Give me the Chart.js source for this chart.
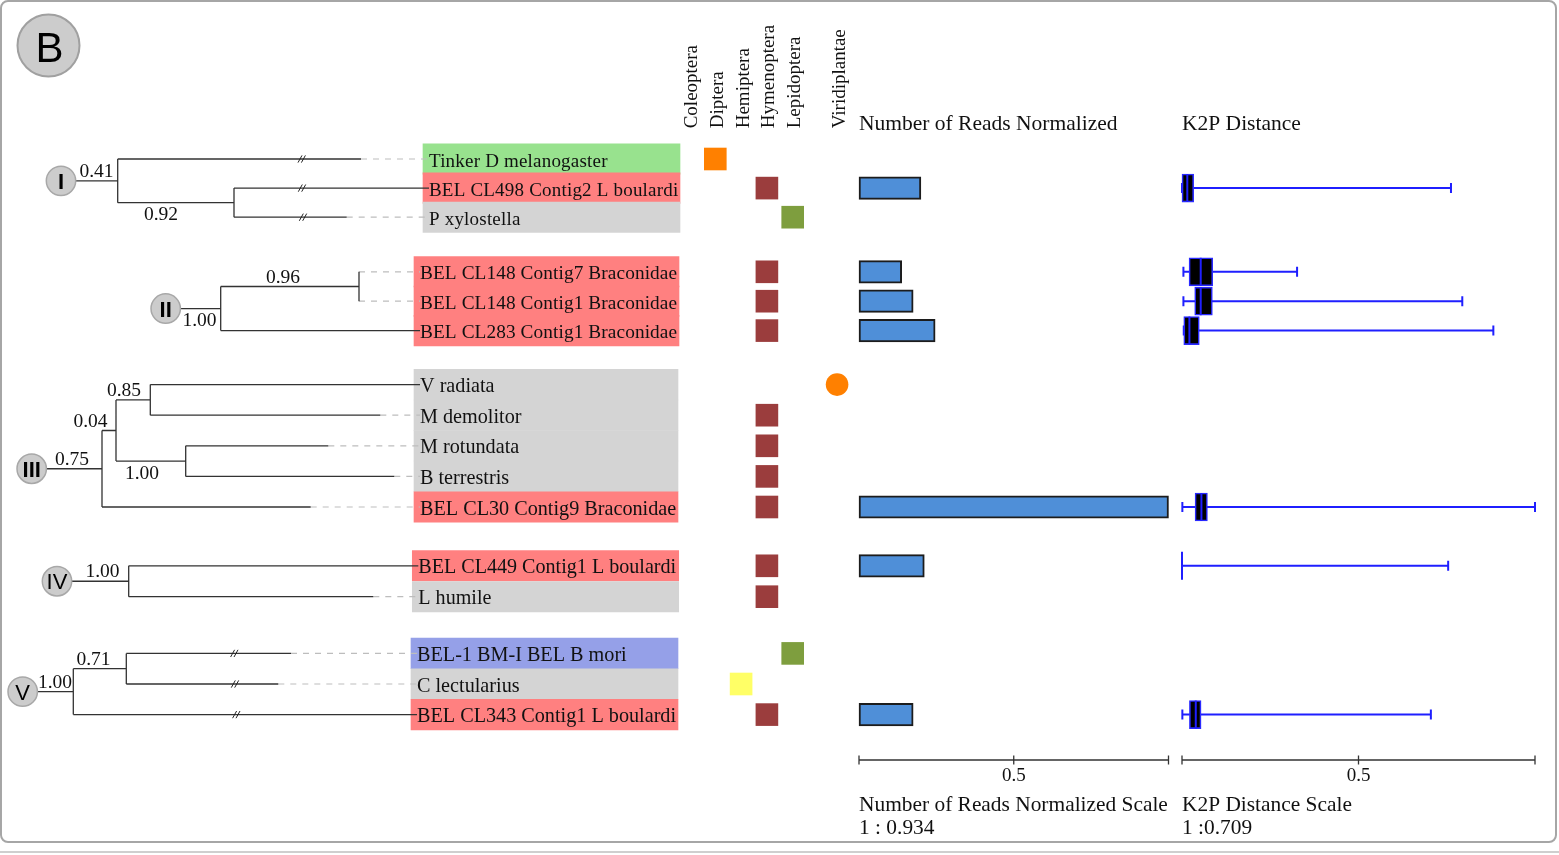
<!DOCTYPE html>
<html>
<head>
<meta charset="utf-8">
<script src="https://cdn.jsdelivr.net/npm/chart.js@4.4.1/dist/chart.umd.min.js"></script>
<style>
  html, body { margin: 0; padding: 0; background: #ffffff; }
  #wrap { position: relative; width: 1559px; height: 855px; }
  canvas { display: block; }
</style>
</head>
<body>
<div id="wrap"><canvas id="panel" width="1559" height="855"></canvas></div>
<script>
// ---------------- data ----------------
const taxa = [
  'Tinker D melanogaster',
  'BEL CL498 Contig2 L boulardi',
  'P xylostella',
  'BEL CL148 Contig7 Braconidae',
  'BEL CL148 Contig1 Braconidae',
  'BEL CL283 Contig1 Braconidae',
  'V radiata',
  'M demolitor',
  'M rotundata',
  'B terrestris',
  'BEL CL30 Contig9 Braconidae',
  'BEL CL449 Contig1 L boulardi',
  'L humile',
  'BEL-1 BM-I BEL B mori',
  'C lectularius',
  'BEL CL343 Contig1 L boulardi'
];
const cladeOf = [0, 0, 0, 1, 1, 1, 2, 2, 2, 2, 2, 3, 3, 4, 4, 4];
const cladeNames = ['I', 'II', 'III', 'IV', 'V'];
const sequenceKind = ['tinker', 'contig', 'ref', 'contig', 'contig', 'contig', 'ref', 'ref',
                      'ref', 'ref', 'contig', 'contig', 'ref', 'bel', 'ref', 'contig'];

const hostColumns = ['Coleoptera', 'Diptera', 'Hemiptera', 'Hymenoptera', 'Lepidoptera', 'Viridiplantae'];
const hostOf = ['Diptera', 'Hymenoptera', 'Lepidoptera', 'Hymenoptera', 'Hymenoptera', 'Hymenoptera',
                'Viridiplantae', 'Hymenoptera', 'Hymenoptera', 'Hymenoptera', 'Hymenoptera',
                'Hymenoptera', 'Hymenoptera', 'Lepidoptera', 'Hemiptera', 'Hymenoptera'];

const readsNormalized = [null, 0.200, null, 0.138, 0.175, 0.246, null, null, null, null, 1.000, 0.211, null, null, null, 0.175];

const k2pMin    = [null, 0.000, null, 0.004, 0.004, 0.005, null, null, null, null, 0.001, 0.000, null, null, null, 0.001];
const k2pQ1     = [null, 0.000, null, 0.020, 0.036, 0.005, null, null, null, null, 0.037, 0.000, null, null, null, 0.021];
const k2pMedian = [null, 0.015, null, 0.053, 0.053, 0.021, null, null, null, null, 0.055, 0.000, null, null, null, 0.039];
const k2pQ3     = [null, 0.033, null, 0.087, 0.086, 0.049, null, null, null, null, 0.072, 0.000, null, null, null, 0.054];
const k2pMax    = [null, 0.762, null, 0.326, 0.794, 0.882, null, null, null, null, 1.000, 0.754, null, null, null, 0.705];

const scaleTicks = [0, 0.5, 1];
const scaleTickLabels = ['', '0.5', ''];
const readsScaleNote = '1 : 0.934';
const k2pScaleNote = '1 :0.709';

// Cladograms, one per clade. x = node depth, leaf = row of the tip,
// cut = where the branch carries a "//" break, support = node support value.
const cladeTrees = [
  { x: 0.61, kids: [
    { x: 1.177, support: '0.41', supportX: 0.965, kids: [
      { leaf: 0, x: 3.61, cut: 3.017 },
      { x: 2.34, support: '0.92', supportX: 1.61, below: true, kids: [
        { leaf: 1, x: 4.23, cut: 3.02 },
        { leaf: 2, x: 3.467, cut: 3.03 } ] } ] } ] },
  { x: 1.657, kids: [
    { x: 2.207, support: '1.00', supportX: 1.995, below: true, kids: [
      { x: 3.59, support: '0.96', supportX: 2.83, kids: [
        { leaf: 3, x: 3.59 },
        { leaf: 4, x: 3.59 } ] },
      { leaf: 5, x: 4.14 } ] } ] },
  { x: 0.317, kids: [
    { x: 1.02, support: '0.75', supportX: 0.72, kids: [
      { x: 1.16, support: '0.04', supportX: 0.905, kids: [
        { x: 1.503, support: '0.85', supportX: 1.24, kids: [
          { leaf: 6, x: 4.14 },
          { leaf: 7, x: 3.803 } ] },
        { x: 1.857, support: '1.00', supportX: 1.42, below: true, kids: [
          { leaf: 8, x: 3.283 },
          { leaf: 9, x: 3.943 } ] } ] },
      { leaf: 10, x: 3.107 } ] } ] },
  { x: 0.57, kids: [
    { x: 1.287, support: '1.00', supportX: 1.025, kids: [
      { leaf: 11, x: 4.123 },
      { leaf: 12, x: 3.733 } ] } ] },
  { x: 0.227, kids: [
    { x: 0.733, support: '1.00', supportX: 0.55, kids: [
      { x: 1.263, support: '0.71', supportX: 0.935, kids: [
        { leaf: 13, x: 2.91, cut: 2.343 },
        { leaf: 14, x: 2.783, cut: 2.35 } ] },
      { leaf: 15, x: 4.11, cut: 2.363 } ] } ] }
];

// ---------------- layout ----------------
const W = 1559, H = 855;
const CLADE_START = [0, 3.76, 7.52, 13.56, 16.48];   // first row of each clade (row units)
const CLADE_PITCH = [0.97, 0.98, 1.02, 1.03, 1.02];  // row pitch inside each clade
const LABEL_LEFT  = [4.23, 4.14, 4.14, 4.123, 4.11];
const LABEL_RIGHT = [6.80, 6.79, 6.78, 6.787, 6.78];
const LABEL_INSET = 0.06;
const LABEL_FONT_PX = [19, 19.3, 20.2, 20.1, 20.2];
const LABEL_SPACING = [0.2, 0.1, 0, 0, 0];
const HOST_POS = [0, 1, 2, 3, 4, 5.72];
const SCALE_ROW = 20.033;

const KIND_COLORS = { tinker: '#98E28E', contig: '#FF8080', ref: '#D4D4D4', bel: '#95A0E8' };
const HOST_COLORS = { Coleoptera: '#4D4D4D', Diptera: '#FF8000', Hemiptera: '#FFFF66',
                      Hymenoptera: '#9B3D3D', Lepidoptera: '#7E9E3E', Viridiplantae: '#FF8000' };
const HOST_SHAPES = { Viridiplantae: 'circle' };

function linearSpan(px0, pxPerUnit, size) {
  return { min: -px0 / pxPerUnit, max: (size - px0) / pxPerUnit };
}
const spanTree  = linearSpan(0, 100, W);
const spanHost  = linearSpan(689.5, 25.8, W);
const spanReads = linearSpan(859, 309.5, W);
const spanK2P   = linearSpan(1182, 353, W);
const spanRows  = linearSpan(159, 30, H);

const rowPos = taxa.map((_, i) => {
  const c = cladeOf[i];
  return CLADE_START[c] + (i - cladeOf.indexOf(c)) * CLADE_PITCH[c];
});

// ---------------- tree geometry ----------------
const GAP = { x: null, y: null };
const solidPts = [], dashPts = [], cutPts = [], supports = [], cladeMarks = [];
function seg(arr, x1, y1, x2, y2) { arr.push({ x: x1, y: y1 }, { x: x2, y: y2 }, GAP); }

function placeNode(n) {
  if (n.leaf !== undefined) { n.y = rowPos[n.leaf]; return; }
  n.kids.forEach(placeNode);
  n.y = (n.kids[0].y + n.kids[n.kids.length - 1].y) / 2;
}
function walk(n, parent, c) {
  if (parent) {
    seg(solidPts, parent.x, n.y, n.x, n.y);
    if (n.support) supports.push({ text: n.support, x: n.supportX, y: n.y, below: !!n.below });
  }
  if (n.kids) {
    if (n.kids.length > 1) seg(solidPts, n.x, n.kids[0].y, n.x, n.kids[n.kids.length - 1].y);
    n.kids.forEach(k => walk(k, n, c));
    return;
  }
  const textX = LABEL_LEFT[c] + LABEL_INSET;
  if (n.x >= LABEL_LEFT[c] - 0.005) seg(solidPts, n.x, n.y, textX, n.y);
  else seg(dashPts, n.x, n.y, textX, n.y);
  if (n.cut !== undefined) {
    [-0.017, 0.017].forEach(o => seg(cutPts, n.cut + o - 0.02, n.y + 0.12, n.cut + o + 0.02, n.y - 0.12));
  }
}
cladeTrees.forEach((t, c) => {
  placeNode(t);
  walk(t, null, c);
  cladeMarks.push({ x: t.x, y: t.y });
});

// ---------------- box plot geometry ----------------
const whiskerPts = [], medianPts = [], k2pBoxes = [];
taxa.forEach((_, i) => {
  if (k2pMax[i] === null) return;
  const y = rowPos[i];
  seg(whiskerPts, k2pMin[i], y, k2pMax[i], y);
  seg(whiskerPts, k2pMin[i], y - 0.167, k2pMin[i], y + 0.167);
  seg(whiskerPts, k2pMax[i], y - 0.167, k2pMax[i], y + 0.167);
  seg(medianPts, k2pMedian[i], y - 0.467, k2pMedian[i], y + 0.467);
  k2pBoxes.push({ x: [k2pQ1[i], k2pQ3[i]], y });
});

const readsBars = taxa.map((_, i) => readsNormalized[i] === null ? null : { x: readsNormalized[i], y: rowPos[i] })
                      .filter(Boolean);
const labelBoxes = taxa.map((_, i) => ({ x: [LABEL_LEFT[cladeOf[i]], LABEL_RIGHT[cladeOf[i]]], y: rowPos[i] }));
const hostCells = taxa.map((_, i) => ({ x: HOST_POS[hostColumns.indexOf(hostOf[i])], y: rowPos[i] }));

// ---------------- text layer ----------------
const SERIF = '"Liberation Serif", "Times New Roman", serif';
const SANS = '"Liberation Sans", Arial, sans-serif';

const panelText = {
  id: 'panelText',
  beforeDatasetsDraw(chart) {
    const ctx = chart.ctx;
    ctx.save();
    // frame
    const x0 = 1, y0 = 1, x1 = 1556, y1 = 842, r = 7;
    ctx.beginPath();
    ctx.moveTo(x0 + r, y0); ctx.lineTo(x1 - r, y0); ctx.arcTo(x1, y0, x1, y0 + r, r);
    ctx.lineTo(x1, y1 - r); ctx.arcTo(x1, y1, x1 - r, y1, r);
    ctx.lineTo(x0 + r, y1); ctx.arcTo(x0, y1, x0, y1 - r, r);
    ctx.lineTo(x0, y0 + r); ctx.arcTo(x0, y0, x0 + r, y0, r);
    ctx.closePath();
    ctx.strokeStyle = '#A6A6A6'; ctx.lineWidth = 2; ctx.stroke();
    ctx.beginPath(); ctx.moveTo(0, 852); ctx.lineTo(W, 852);
    ctx.strokeStyle = '#CFCFCF'; ctx.lineWidth = 2; ctx.stroke();
    // panel letter
    ctx.beginPath(); ctx.arc(48.5, 45.5, 31, 0, Math.PI * 2);
    ctx.fillStyle = '#CCCCCC'; ctx.fill();
    ctx.strokeStyle = '#A0A0A0'; ctx.lineWidth = 2; ctx.stroke();
    ctx.fillStyle = '#000'; ctx.font = '42px ' + SANS; ctx.textAlign = 'center'; ctx.textBaseline = 'alphabetic';
    ctx.fillText('B', 49.5, 61.5);
    ctx.restore();
  },
  afterDatasetsDraw(chart) {
    const ctx = chart.ctx;
    const s = chart.scales;
    const yPx = v => s.y.getPixelForValue(v);
    ctx.save();
    ctx.fillStyle = '#111';
    ctx.textBaseline = 'alphabetic';
    const hasSpacing = 'letterSpacing' in ctx;

    // taxon labels
    ctx.textAlign = 'left';
    taxa.forEach((name, i) => {
      const c = cladeOf[i];
      ctx.font = LABEL_FONT_PX[c] + 'px ' + SERIF;
      if (hasSpacing) ctx.letterSpacing = LABEL_SPACING[c] + 'px';
      ctx.fillText(name, s.xTree.getPixelForValue(LABEL_LEFT[c] + LABEL_INSET), yPx(rowPos[i]) + 7.6);
    });
    if (hasSpacing) ctx.letterSpacing = '0px';

    // node supports
    ctx.textAlign = 'center';
    ctx.font = '19.5px ' + SERIF;
    supports.forEach(sp => {
      ctx.fillText(sp.text, s.xTree.getPixelForValue(sp.x), yPx(sp.y) + (sp.below ? 17.5 : -4));
    });

    // clade numerals
    ctx.fillStyle = '#000';
    cladeMarks.forEach((m, c) => {
      const name = cladeNames[c];
      ctx.font = (name.indexOf('V') < 0 ? 'bold ' : '') + '22px ' + SANS;
      ctx.fillText(name, s.xTree.getPixelForValue(m.x), yPx(m.y) + 8);
    });

    // host column headers
    ctx.fillStyle = '#111';
    ctx.font = '19px ' + SERIF;
    ctx.textAlign = 'left';
    const headBase = yPx(rowPos[0]) - 30.7;
    hostColumns.forEach((h, k) => {
      ctx.save();
      ctx.translate(s.xHost.getPixelForValue(HOST_POS[k]) + 7.5, headBase);
      ctx.rotate(-Math.PI / 2);
      ctx.fillText(h, 0, 0);
      ctx.restore();
    });

    // panel headers
    ctx.font = '21.5px ' + SERIF;
    const titleBase = yPx(rowPos[0]) - 29.5;
    ctx.fillText('Number of Reads Normalized', s.xReads.getPixelForValue(0), titleBase);
    ctx.fillText('K2P Distance', s.xK2P.getPixelForValue(0), titleBase);

    // scale bars
    const axisY = yPx(SCALE_ROW);
    [s.xReads, s.xK2P].forEach(sc => {
      ctx.beginPath();
      ctx.moveTo(sc.getPixelForValue(scaleTicks[0]), axisY);
      ctx.lineTo(sc.getPixelForValue(scaleTicks[scaleTicks.length - 1]), axisY);
      scaleTicks.forEach(t => {
        const px = sc.getPixelForValue(t);
        ctx.moveTo(px, axisY - 4.5); ctx.lineTo(px, axisY + 4.5);
      });
      ctx.strokeStyle = '#333'; ctx.lineWidth = 1.3; ctx.stroke();
      ctx.font = '19px ' + SERIF; ctx.textAlign = 'center';
      scaleTicks.forEach((t, k) => {
        if (scaleTickLabels[k]) ctx.fillText(scaleTickLabels[k], sc.getPixelForValue(t), axisY + 21.5);
      });
    });
    ctx.textAlign = 'left';
    ctx.font = '21.4px ' + SERIF;
    ctx.fillText('Number of Reads Normalized Scale', s.xReads.getPixelForValue(0), axisY + 51);
    ctx.fillText(readsScaleNote, s.xReads.getPixelForValue(0), axisY + 74);
    ctx.fillText('K2P Distance Scale', s.xK2P.getPixelForValue(0), axisY + 51);
    ctx.fillText(k2pScaleNote, s.xK2P.getPixelForValue(0), axisY + 74);
    ctx.restore();
  }
};

// ---------------- chart ----------------
const lineDefaults = { type: 'line', xAxisID: 'xTree', yAxisID: 'y', pointRadius: 0, fill: false,
                       tension: 0, spanGaps: false, borderCapStyle: 'butt' };

new Chart(document.getElementById('panel'), {
  type: 'scatter',
  data: {
    datasets: [
      { type: 'scatter', label: 'clades', xAxisID: 'xTree', yAxisID: 'y', data: cladeMarks, order: 0,
        pointRadius: 14.7, pointBackgroundColor: '#CCCCCC', pointBorderColor: '#A8A8A8', pointBorderWidth: 1.5 },
      { ...lineDefaults, label: 'median', xAxisID: 'xK2P', data: medianPts, order: 1,
        borderColor: '#1F1FFF', borderWidth: 2 },
      { type: 'bar', label: 'K2P box', indexAxis: 'y', xAxisID: 'xK2P', yAxisID: 'y', data: k2pBoxes, order: 2,
        grouped: false, barThickness: 28, backgroundColor: '#000000', borderColor: '#2A2AFF',
        borderWidth: 1.6, borderSkipped: false },
      { ...lineDefaults, label: 'whiskers', xAxisID: 'xK2P', data: whiskerPts, order: 3,
        borderColor: '#1F1FFF', borderWidth: 2 },
      { type: 'bar', label: 'reads', indexAxis: 'y', xAxisID: 'xReads', yAxisID: 'y', data: readsBars, order: 4,
        grouped: false, barThickness: 22.5, backgroundColor: '#4F8FD8', borderColor: '#1C1C1C',
        borderWidth: 2, borderSkipped: false },
      { type: 'scatter', label: 'hosts', xAxisID: 'xHost', yAxisID: 'y', data: hostCells, order: 5,
        pointStyle: hostOf.map(h => HOST_SHAPES[h] || 'rect'),
        pointRadius: hostOf.map(h => HOST_SHAPES[h] ? 11.3 : 16),
        pointBackgroundColor: hostOf.map(h => HOST_COLORS[h]), pointBorderWidth: 0 },
      { ...lineDefaults, label: 'breaks', data: cutPts, order: 6, borderColor: '#222', borderWidth: 1 },
      { ...lineDefaults, label: 'branches', data: solidPts, order: 7, borderColor: '#333', borderWidth: 1.3 },
      { ...lineDefaults, label: 'leaders', data: dashPts, order: 8, borderColor: '#BDBDBD', borderWidth: 1.2,
        borderDash: [6, 6] },
      { type: 'bar', label: 'labels', indexAxis: 'y', xAxisID: 'xTree', yAxisID: 'y', data: labelBoxes, order: 9,
        grouped: false, barThickness: 30.4, backgroundColor: sequenceKind.map(k => KIND_COLORS[k]),
        borderWidth: 0, borderSkipped: false }
    ]
  },
  options: {
    responsive: false,
    animation: false,
    devicePixelRatio: 1,
    events: [],
    layout: { padding: 0, autoPadding: false },
    plugins: { legend: { display: false }, tooltip: { enabled: false }, title: { display: false } },
    scales: {
      xTree:  { type: 'linear', axis: 'x', display: false, stacked: false, min: spanTree.min,  max: spanTree.max },
      xHost:  { type: 'linear', axis: 'x', display: false, stacked: false, min: spanHost.min,  max: spanHost.max },
      xReads: { type: 'linear', axis: 'x', display: false, stacked: false, min: spanReads.min, max: spanReads.max },
      xK2P:   { type: 'linear', axis: 'x', display: false, stacked: false, min: spanK2P.min,   max: spanK2P.max },
      y:      { type: 'linear', axis: 'y', display: false, reverse: true, offset: false,
                min: spanRows.min, max: spanRows.max }
    }
  },
  plugins: [panelText]
});
</script>
</body>
</html>
